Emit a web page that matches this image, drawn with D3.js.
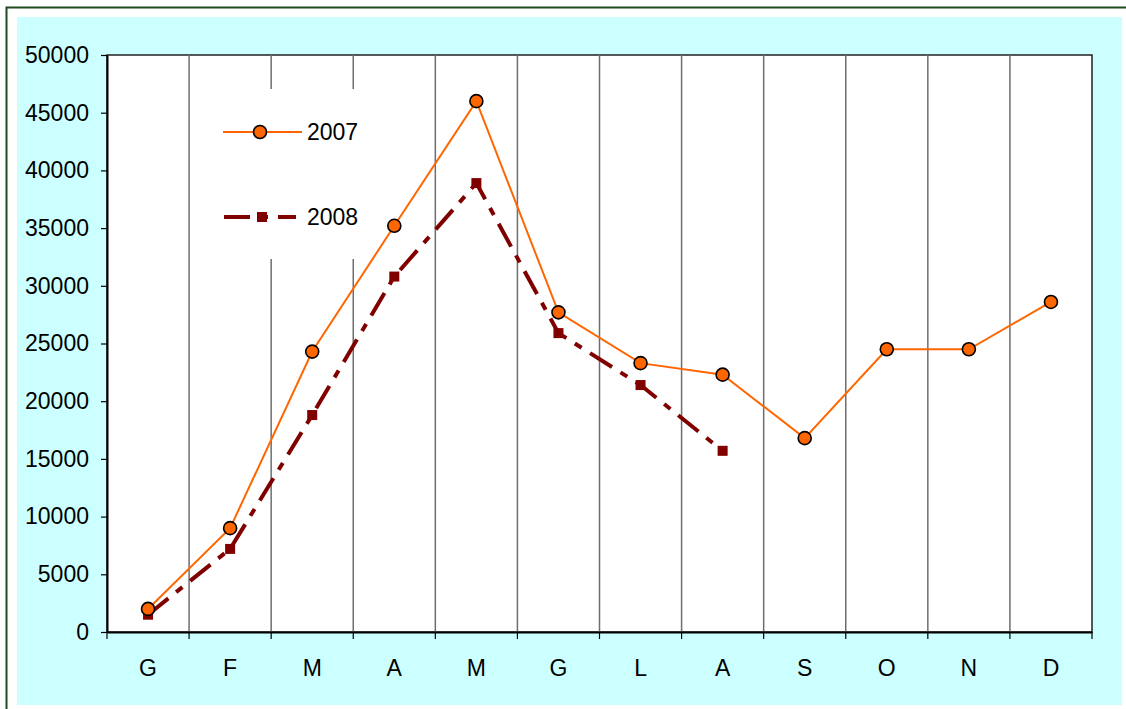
<!DOCTYPE html>
<html>
<head>
<meta charset="utf-8">
<script src="https://cdn.jsdelivr.net/npm/d3@7"></script>
<style>
    body { margin: 0; background: #fff; }
    svg { display: block; }
    text { font-family: "Liberation Sans", Arial, sans-serif; }
</style>
</head>
<body>
<svg id="chart"></svg>
<script>
// months (Italian initials)
const months = ["G", "F", "M", "A", "M", "G", "L", "A", "S", "O", "N", "D"];
const values2007 = [2000, 9000, 24300, 35200, 46000, 27700, 23300, 22300, 16800, 24500, 24500, 28600];
const values2008 = [1500, 7200, 18800, 30800, 38900, 25900, 21400, 15700];
const yTicks = [0, 5000, 10000, 15000, 20000, 25000, 30000, 35000, 40000, 45000, 50000];

const config = {
    width: 1126,
    height: 709,
    left: 107,
    top: 55,
    right: 1092,
    bottom: 632,
    fontSize: 23
};

const svg = d3.select("#chart")
    .attr("width", config.width)
    .attr("height", config.height);

// outer frame + cyan chart area
svg.append("rect")
    .attr("x", 6.5).attr("y", 7.5)
    .attr("width", 1130).attr("height", 710)
    .attr("fill", "#fff")
    .attr("stroke", "#1e4a1e")
    .attr("stroke-width", 2);

svg.append("rect")
    .attr("x", 17).attr("y", 17)
    .attr("width", 1105).attr("height", 688)
    .attr("fill", "#ccffff");

const keys = months.map((m, i) => i);
const x = d3.scaleBand().domain(keys).range([config.left, config.right]);
const y = d3.scaleLinear().domain([0, 50000]).range([config.bottom, config.top]);

// plot area
svg.append("rect")
    .attr("x", config.left).attr("y", config.top)
    .attr("width", config.right - config.left)
    .attr("height", config.bottom - config.top)
    .attr("fill", "#fff")
    .attr("stroke", "#222")
    .attr("stroke-width", 1.5);

// vertical gridlines at category boundaries
svg.append("g")
    .selectAll("line")
    .data(keys.slice(1))
    .join("line")
    .attr("x1", d => x(d)).attr("x2", d => x(d))
    .attr("y1", config.top).attr("y2", config.bottom)
    .attr("stroke", "#6e6e6e")
    .attr("stroke-width", 1.5);

// legend box (white, covers gridlines)
svg.append("rect")
    .attr("x", 205).attr("y", 89)
    .attr("width", 170).attr("height", 170)
    .attr("fill", "#fff");

// axes
const yAxis = d3.axisLeft(y).tickValues(yTicks).tickFormat(d3.format("d"))
    .tickSize(6).tickPadding(12).tickSizeOuter(0);
svg.append("g")
    .attr("transform", `translate(${config.left}, 0)`)
    .call(yAxis)
    .call(g => g.selectAll("text").attr("font-size", config.fontSize).attr("fill", "#000")
        .attr("font-family", "Liberation Sans, Arial, sans-serif"))
    .call(g => g.selectAll("line").attr("stroke", "#000").attr("stroke-width", 1.2))
    .call(g => g.select(".domain").attr("stroke", "#000").attr("stroke-width", 2));

const xAxis = d3.axisBottom(x).tickSize(0).tickPadding(28).tickFormat(i => months[i]);
svg.append("g")
    .attr("transform", `translate(0, ${config.bottom})`)
    .call(xAxis)
    .call(g => g.selectAll("text").attr("font-size", config.fontSize).attr("fill", "#000")
        .attr("font-family", "Liberation Sans, Arial, sans-serif"))
    .call(g => g.select(".domain").attr("stroke", "#000").attr("stroke-width", 2));

// x tick marks at boundaries
svg.append("g")
    .selectAll("line")
    .data(keys.concat([12]))
    .join("line")
    .attr("x1", d => d < 12 ? x(d) : config.right)
    .attr("x2", d => d < 12 ? x(d) : config.right)
    .attr("y1", config.bottom).attr("y2", config.bottom + 7)
    .attr("stroke", "#000")
    .attr("stroke-width", 1.2);

const cx = i => x(i) + x.bandwidth() / 2;
const line = d3.line().x((d, i) => cx(i)).y(d => y(d));

// 2008 series
svg.append("path")
    .datum(values2008)
    .attr("d", line)
    .attr("fill", "none")
    .attr("stroke", "#800000")
    .attr("stroke-width", 4)
    .attr("stroke-dasharray", "26,10,8,10");

svg.append("g")
    .selectAll("rect")
    .data(values2008)
    .join("rect")
    .attr("x", (d, i) => cx(i) - 5)
    .attr("y", d => y(d) - 5)
    .attr("width", 10).attr("height", 10)
    .attr("fill", "#800000");

// 2007 series
svg.append("path")
    .datum(values2007)
    .attr("d", line)
    .attr("fill", "none")
    .attr("stroke", "#ff6600")
    .attr("stroke-width", 2);

svg.append("g")
    .selectAll("circle")
    .data(values2007)
    .join("circle")
    .attr("cx", (d, i) => cx(i))
    .attr("cy", d => y(d))
    .attr("r", 6.5)
    .attr("fill", "#ff6600")
    .attr("stroke", "#000")
    .attr("stroke-width", 1.6);

// legend
const legend = svg.append("g");
legend.append("line")
    .attr("x1", 223).attr("x2", 302).attr("y1", 132).attr("y2", 132)
    .attr("stroke", "#ff6600").attr("stroke-width", 2);
legend.append("circle")
    .attr("cx", 260).attr("cy", 132).attr("r", 6.5)
    .attr("fill", "#ff6600").attr("stroke", "#000").attr("stroke-width", 1.6);
legend.append("text")
    .attr("x", 307).attr("y", 140)
    .attr("font-size", config.fontSize).text("2007");

legend.append("line")
    .attr("x1", 224).attr("x2", 296).attr("y1", 217).attr("y2", 217)
    .attr("stroke", "#800000").attr("stroke-width", 4)
    .attr("stroke-dasharray", "26,10,8,10");
legend.append("rect")
    .attr("x", 257).attr("y", 212).attr("width", 10).attr("height", 10)
    .attr("fill", "#800000");
legend.append("text")
    .attr("x", 307).attr("y", 225)
    .attr("font-size", config.fontSize).text("2008");
</script>
</body>
</html>
